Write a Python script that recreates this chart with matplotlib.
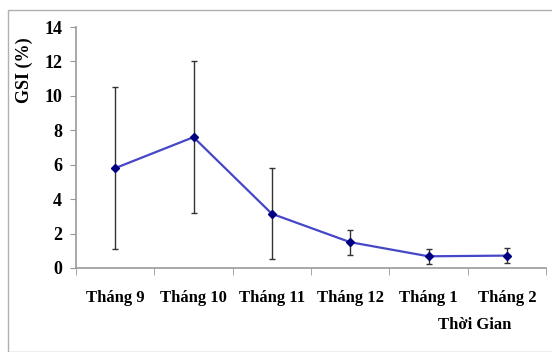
import matplotlib.pyplot as plt
from matplotlib.patches import Rectangle
import numpy as np

months = ["Tháng 9", "Tháng 10", "Tháng 11", "Tháng 12", "Tháng 1", "Tháng 2"]
gsi = [5.8, 7.6, 3.15, 1.5, 0.68, 0.72]
err = [4.7, 4.4, 2.65, 0.72, 0.42, 0.45]

plt.rcParams['font.family'] = ['Liberation Serif', 'DejaVu Serif']
plt.rcParams['font.weight'] = 'bold'

fig = plt.figure(figsize=(5.52, 3.52), dpi=100)
fig.patches.append(Rectangle((8/552, 0.0), 1.0, 1 - 10/352, transform=fig.transFigure,
                             fill=False, edgecolor='#b0b0b0', linewidth=1))
ax = fig.add_axes([76/552, 1 - 268/352, 470/552, 241/352])

x = np.arange(len(months))
ax.errorbar(x, gsi, yerr=err, fmt='none', ecolor='#333333', elinewidth=1.0,
            capsize=2.5, capthick=1.0, zorder=2)
ax.plot(x, gsi, color='#4646c8', linewidth=1.6, marker='D', markersize=4.5,
        markerfacecolor='#000080', markeredgecolor='#000080', zorder=3)

ax.set_xlim(-0.5, len(months) - 0.5)
ax.set_ylim(0, 14)
ax.set_yticks(range(0, 15, 2))
ax.set_xticks(x)
ax.set_xticklabels(months, fontsize=12, fontweight='bold')
ax.set_xticks(np.arange(-0.5, len(months)), minor=True)
ax.tick_params(axis='x', which='major', length=0, pad=16)
ax.tick_params(axis='x', which='minor', length=5, color='#999999', direction='out')
ax.tick_params(axis='y', length=4, color='#999999', labelsize=13, pad=6)
for lab in ax.get_yticklabels():
    lab.set_fontweight('bold')

for s in ['top', 'right']:
    ax.spines[s].set_visible(False)
for s in ['left', 'bottom']:
    ax.spines[s].set_color('#999999')
    ax.spines[s].set_linewidth(1.2)

ax.set_ylabel("GSI (%)", fontsize=13, fontweight='bold')
ax.yaxis.set_label_coords(-0.092, 0.82)
fig.text(475/552, 1 - 325/352, "Thời Gian", fontsize=12, fontweight='bold',
         ha='center', va='center')

fig.savefig("out.png", dpi=100)
